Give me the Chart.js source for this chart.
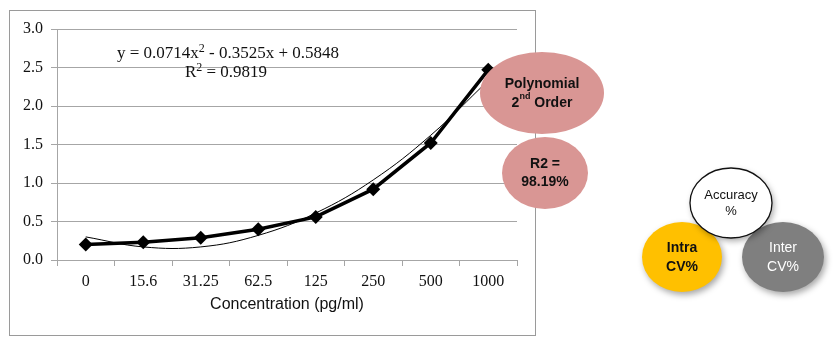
<!DOCTYPE html>
<html>
<head>
<meta charset="utf-8">
<script src="https://cdn.jsdelivr.net/npm/chart.js@4.4.0/dist/chart.umd.min.js"></script>
<style>
  html, body { margin: 0; padding: 0; background: #fff; }
  canvas { display: block; }
</style>
</head>
<body>
<canvas id="canvas" width="834" height="351"></canvas>
<script>
// dữ liệu biểu đồ
const categories = ["0", "15.6", "31.25", "62.5", "125", "250", "500", "1000"];
const measured = [0.2, 0.23, 0.29, 0.4, 0.56, 0.92, 1.52, 2.47];
const trendline = [0.3, 0.17, 0.17, 0.32, 0.61, 1.04, 1.62, 2.33];
const yTicks = [0, 0.5, 1.0, 1.5, 2.0, 2.5, 3.0];

const serif = "'Liberation Serif', 'Times New Roman', serif";
const sans = "'Liberation Sans', Arial, sans-serif";

// vẽ hình elip có bóng
function ellipse(ctx, x, y, rx, ry, fill, stroke, shadow) {
  ctx.save();
  if (shadow) {
    ctx.shadowColor = "rgba(0,0,0,0.35)";
    ctx.shadowBlur = 6;
    ctx.shadowOffsetX = 2;
    ctx.shadowOffsetY = 3;
  }
  ctx.beginPath();
  ctx.ellipse(x, y, rx, ry, 0, 0, Math.PI * 2);
  ctx.fillStyle = fill;
  ctx.fill();
  ctx.restore();
  if (stroke) {
    ctx.save();
    ctx.beginPath();
    ctx.ellipse(x, y, rx, ry, 0, 0, Math.PI * 2);
    ctx.strokeStyle = stroke;
    ctx.lineWidth = 1.3;
    ctx.stroke();
    ctx.restore();
  }
}

function text(ctx, str, x, y, font, color) {
  ctx.font = font;
  ctx.fillStyle = color;
  ctx.textAlign = "center";
  ctx.textBaseline = "middle";
  ctx.fillText(str, x, y);
}

const decorPlugin = {
  id: "decor",
  beforeDraw(chart) {
    const ctx = chart.ctx;
    ctx.save();
    ctx.strokeStyle = "#9a9a9a";
    ctx.lineWidth = 1;
    ctx.strokeRect(9.5, 10.5, 526, 325);
    ctx.restore();
  },
  afterDraw(chart) {
    const ctx = chart.ctx;
    ctx.save();

    // phương trình hồi quy
    const big = "17px " + serif, small = "12px " + serif;
    ctx.font = big;
    ctx.fillStyle = "#111";
    ctx.textBaseline = "middle";
    ctx.textAlign = "left";
    const p1 = "y = 0.0714x", p2 = " - 0.3525x + 0.5848";
    const w1 = ctx.measureText(p1).width;
    ctx.font = small;
    const ws = ctx.measureText("2").width;
    ctx.font = big;
    const w2 = ctx.measureText(p2).width;
    let x0 = 228 - (w1 + ws + w2) / 2;
    ctx.fillText(p1, x0, 54);
    ctx.font = small;
    ctx.fillText("2", x0 + w1, 49);
    ctx.font = big;
    ctx.fillText(p2, x0 + w1 + ws, 54);

    const r1 = "R", r2 = " = 0.9819";
    const rw1 = ctx.measureText(r1).width;
    const rw2 = ctx.measureText(r2).width;
    x0 = 226 - (rw1 + ws + rw2) / 2;
    ctx.fillText(r1, x0, 73);
    ctx.font = small;
    ctx.fillText("2", x0 + rw1, 68);
    ctx.font = big;
    ctx.fillText(r2, x0 + rw1 + ws, 73);

    // các hình elip chú thích
    ellipse(ctx, 542, 93, 62, 41, "#d99694", null, false);
    text(ctx, "Polynomial", 542, 84, "bold 14px " + sans, "#111");
    ctx.font = "bold 14px " + sans;
    const a = ctx.measureText("2").width, b = ctx.measureText(" Order").width;
    ctx.font = "bold 9px " + sans;
    const c = ctx.measureText("nd").width;
    let sx = 542 - (a + b + c) / 2;
    ctx.textAlign = "left";
    ctx.font = "bold 14px " + sans;
    ctx.fillText("2", sx, 103);
    ctx.font = "bold 9px " + sans;
    ctx.fillText("nd", sx + a, 97);
    ctx.font = "bold 14px " + sans;
    ctx.fillText(" Order", sx + a + c, 103);

    ellipse(ctx, 545, 173, 43, 36, "#d99694", null, false);
    text(ctx, "R2 =", 545, 164, "bold 14px " + sans, "#111");
    text(ctx, "98.19%", 545, 182, "bold 14px " + sans, "#111");

    ellipse(ctx, 682, 257, 40, 35, "#ffc000", null, true);
    text(ctx, "Intra", 682, 248, "bold 14px " + sans, "#111");
    text(ctx, "CV%", 682, 267, "bold 14px " + sans, "#111");

    ellipse(ctx, 783, 257, 41, 35, "#7f7f7f", null, true);
    text(ctx, "Inter", 783, 248, "14px " + sans, "#fff");
    text(ctx, "CV%", 783, 267, "14px " + sans, "#fff");

    ellipse(ctx, 731, 203, 41, 35, "#ffffff", "#111", true);
    text(ctx, "Accuracy", 731, 195, "13px " + sans, "#111");
    text(ctx, "%", 731, 211, "13px " + sans, "#111");

    ctx.restore();
  },
};

const ctx = document.getElementById("canvas").getContext("2d");

const myChart = new Chart(ctx, {
  type: "line",
  data: {
    labels: categories,
    datasets: [
      {
        label: "Trendline",
        data: trendline,
        borderColor: "#000",
        borderWidth: 1,
        pointRadius: 0,
        tension: 0.4,
        fill: false,
        order: 0,
      },
      {
        label: "Measured",
        data: measured,
        borderColor: "#000",
        backgroundColor: "#000",
        borderWidth: 3.5,
        pointStyle: "rectRot",
        pointRadius: 7,
        pointBorderWidth: 0,
        tension: 0,
        fill: false,
        order: 1,
      },
    ],
  },
  options: {
    responsive: false,
    animation: false,
    devicePixelRatio: 1,
    layout: {
      padding: { left: 9, top: 29, right: 317, bottom: 16 },
    },
    plugins: {
      legend: { display: false },
      tooltip: { enabled: false },
    },
    scales: {
      y: {
        min: 0,
        max: 3,
        afterFit: (s) => { s.width = 48; },
        afterBuildTicks: (s) => { s.ticks = yTicks.map((v) => ({ value: v })); },
        ticks: {
          color: "#111",
          padding: 8,
          font: { size: 16, family: serif },
          callback: (v) => Number(v).toFixed(1),
        },
        grid: {
          color: "#a6a6a6",
          tickLength: 6,
          lineWidth: 1,
        },
        border: { color: "#a6a6a6" },
      },
      x: {
        offset: true,
        afterFit: (s) => { s.height = 75; },
        ticks: {
          color: "#111",
          padding: 6,
          maxRotation: 0,
          font: { size: 16, family: serif },
        },
        grid: {
          offset: true,
          drawOnChartArea: false,
          color: "#a6a6a6",
          tickLength: 6,
        },
        border: { color: "#a6a6a6" },
        title: {
          display: true,
          text: "Concentration (pg/ml)",
          color: "#111",
          font: { size: 16, family: sans },
          padding: { top: 0, bottom: 21 },
        },
      },
    },
  },
  plugins: [decorPlugin],
});
</script>
</body>
</html>
